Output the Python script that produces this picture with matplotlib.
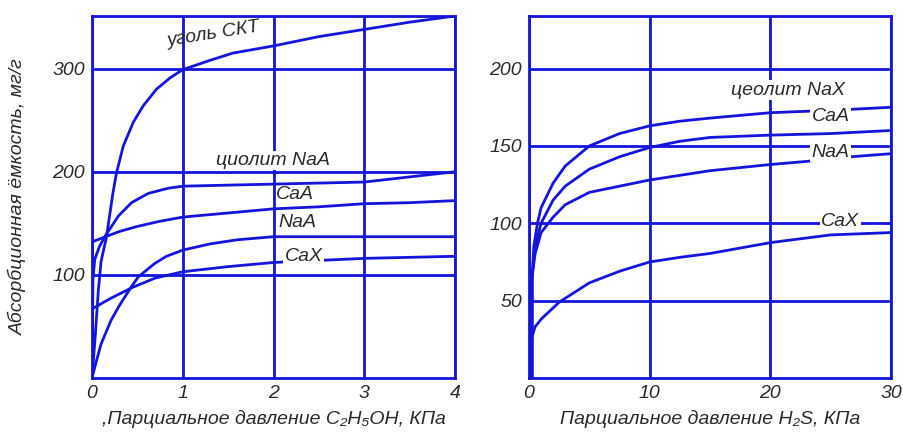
import numpy as np
import matplotlib
matplotlib.use("Agg")
import matplotlib.pyplot as plt

plt.rcParams['font.family'] = ['Liberation Sans', 'DejaVu Sans']
plt.rcParams['font.style'] = 'italic'

BLUE = '#1414dc'
INK = '#2a2a2a'
LW = 2.0
FS = 14

# --- C2H5OH, left panel ---
skt_x = [0, 0.035, 0.07, 0.10, 0.16, 0.23, 0.27, 0.345, 0.455, 0.565, 0.71, 0.86, 1.0, 1.3, 1.55, 2.0, 2.5, 3.0, 3.5, 4.0]
skt_y = [0, 40, 85, 113, 137, 179, 199, 225, 248, 264, 280, 291, 299, 308, 315, 322, 331, 338, 345, 351]

caa_x = [0, 0.005, 0.01, 0.03, 0.08, 0.14, 0.29, 0.435, 0.62, 0.84, 1.0, 1.5, 2.0, 2.5, 3.0, 3.3, 3.6, 4.0]
caa_y = [0, 50, 95, 115, 127, 137, 157, 170, 179, 184, 186, 187, 188, 189, 190, 193, 196, 200]

naa_x = [0, 0.15, 0.3, 0.5, 0.75, 1.0, 1.5, 2.0, 2.5, 3.0, 3.5, 4.0]
naa_y = [132, 137, 142, 147, 152, 156, 160, 164, 166, 169, 170, 172]

nax_x = [0, 0.05, 0.1, 0.21, 0.3, 0.43, 0.51, 0.69, 0.82, 1.0, 1.3, 1.6, 2.0, 3.0, 4.0]
nax_y = [0, 17, 33, 56, 70, 88, 98, 111, 118, 124, 130, 134, 137, 137, 137]

cax_x = [0, 0.2, 0.45, 0.7, 1.0, 1.5, 2.0, 2.5, 3.0, 3.5, 4.0]
cax_y = [67, 77, 88, 97, 103, 108, 112, 114, 116, 117, 118]

# --- H2S, right panel ---
h_caa_x = [0.25, 0.25, 0.4, 0.7, 1.0, 2.0, 3.0, 5.0, 7.5, 10, 12.5, 15, 20, 25, 30]
h_caa_y = [0, 65, 85, 100, 110, 126, 137, 150, 158, 163, 166, 168, 171.5, 173, 175]

h_nax_x = [0.25, 0.25, 0.5, 1.0, 2.0, 3.0, 5.0, 7.5, 10, 12.5, 15, 20, 25, 30]
h_nax_y = [0, 65, 85, 100, 115, 124, 135, 143, 149, 153, 155.5, 157, 158, 160]

h_naa_x = [0.25, 0.25, 0.5, 1.0, 2.0, 3.0, 5.0, 7.5, 10, 15, 20, 23, 25, 30]
h_naa_y = [0, 65, 80, 94, 104, 112, 120, 124, 128, 134, 138, 140, 142, 145]

h_cax_x = [0.2, 0.2, 0.5, 1.0, 2.5, 5.0, 7.5, 10, 12.5, 15, 20, 25, 30]
h_cax_y = [0, 25, 33, 38, 49, 61.5, 69, 75, 78, 80.5, 87.5, 92.5, 94]

fig = plt.figure(figsize=(9.04, 4.32), dpi=100)
ax1 = fig.add_axes([92 / 904, 54 / 432, 363 / 904, 362 / 432])
ax2 = fig.add_axes([529 / 904, 54 / 432, 362 / 904, 362 / 432])


def frame(ax, xt, yt, xlim, ylim):
    ax.set_xlim(*xlim)
    ax.set_ylim(*ylim)
    ax.set_xticks(xt)
    ax.set_yticks(yt)
    for v in xt:
        ax.axvline(v, color=BLUE, lw=LW, zorder=1)
    for v in yt:
        ax.axhline(v, color=BLUE, lw=LW, zorder=1)
    for s in ax.spines.values():
        s.set_color(BLUE)
        s.set_linewidth(LW)
    ax.tick_params(length=0, labelsize=FS, labelcolor=INK, pad=5)


frame(ax1, [0, 1, 2, 3, 4], [100, 200, 300], (0, 4), (0, 351))
ax1.set_xticklabels(['0', '1', '2', '3', '4'])
ax1.set_yticklabels(['100', '200', '300'])
for xs, ys in [(skt_x, skt_y), (caa_x, caa_y), (naa_x, naa_y), (nax_x, nax_y), (cax_x, cax_y)]:
    ax1.plot(xs, ys, color=BLUE, lw=LW, zorder=2, solid_joinstyle='round')

box = dict(facecolor='white', edgecolor='none', pad=1.0)
ax1.text(1.33, 333, 'уголь СКТ', fontsize=FS, color=INK, rotation=9, ha='center', va='center', zorder=3)
ax1.text(2.0, 211, 'циолит NaA', fontsize=FS, color=INK, ha='center', va='center', bbox=box, zorder=3)
ax1.text(2.24, 178, 'CaA', fontsize=FS, color=INK, ha='center', va='center', zorder=3)
ax1.text(2.26, 151, 'NaA', fontsize=FS, color=INK, ha='center', va='center', zorder=3)
ax1.text(2.33, 118, 'CaX', fontsize=FS, color=INK, ha='center', va='center', bbox=box, zorder=3)
ax1.set_xlabel(',Парциальное давление C₂H₅OH, КПа', fontsize=FS, color=INK, labelpad=6)
ax1.set_ylabel('Абсорбционная ёмкость, мг/г', fontsize=FS, color=INK, labelpad=18)

frame(ax2, [0, 10, 20, 30], [50, 100, 150, 200], (0, 30), (0, 234))
ax2.set_xticklabels(['0', '10', '20', '30'])
ax2.set_yticklabels(['50', '100', '150', '200'])
for xs, ys in [(h_caa_x, h_caa_y), (h_nax_x, h_nax_y), (h_naa_x, h_naa_y), (h_cax_x, h_cax_y)]:
    ax2.plot(xs, ys, color=BLUE, lw=LW, zorder=2, solid_joinstyle='round')

ax2.text(21.5, 186, 'цеолит NaX', fontsize=FS, color=INK, ha='center', va='center', bbox=box, zorder=3)
ax2.text(25.0, 169, 'CaA', fontsize=FS, color=INK, ha='center', va='center', bbox=box, zorder=3)
ax2.text(25.0, 146, 'NaA', fontsize=FS, color=INK, ha='center', va='center', bbox=box, zorder=3)
ax2.text(25.8, 101, 'CaX', fontsize=FS, color=INK, ha='center', va='center', bbox=box, zorder=3)
ax2.set_xlabel('Парциальное давление H₂S, КПа', fontsize=FS, color=INK, labelpad=6)

fig.savefig('out.png', dpi=100, facecolor='white')
